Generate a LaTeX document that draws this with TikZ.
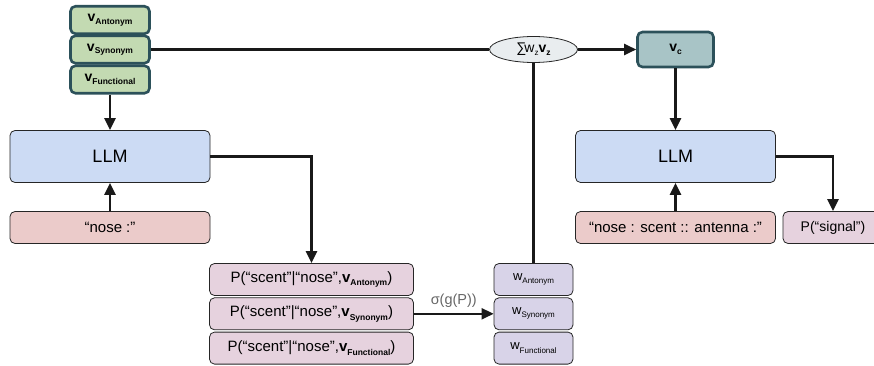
\documentclass[tikz,border=0pt]{standalone}
\usepackage{fontspec}
\setmainfont{Liberation Sans}
\usetikzlibrary{positioning, shapes.geometric, arrows.meta, calc}

\definecolor{vgreen}{HTML}{C3DAB2}
\definecolor{vborder}{HTML}{2C515A}
\definecolor{llmblue}{HTML}{CCDBF4}
\definecolor{promptpink}{HTML}{EBCBCA}
\definecolor{probpink}{HTML}{E6D2DE}
\definecolor{wlav}{HTML}{D8D3E8}
\definecolor{vcteal}{HTML}{A8C4C6}
\definecolor{sumgray}{HTML}{E9EDEF}

\newcommand{\bsub}[1]{\raisebox{-0.45ex}{\fontsize{8.5}{9}\selectfont\bfseries #1}}
\newcommand{\rsub}[1]{\raisebox{-0.45ex}{\fontsize{8}{9}\selectfont #1}}
\newcommand{\vname}[1]{{\fontsize{14}{15}\selectfont\bfseries v}\bsub{#1}}
\newcommand{\pname}[1]{P(“scent”|“nose”,{\bfseries v}\bsub{#1})}
\newcommand{\wname}[1]{w\rsub{#1}}

\begin{document}
\begin{tikzpicture}[
        x=1pt, y=-1pt,
        node distance=0pt,
        every node/.style={align=center, inner sep=0pt},
        box/.style={draw=black!85, rounded corners=5pt, line width=0.8pt},
        vbox/.style={box, draw=vborder, line width=2.6pt, fill=vgreen, minimum width=79pt, minimum height=27.5pt},
        llmbox/.style={box, fill=llmblue, minimum width=200pt, minimum height=52pt, font=\fontsize{18}{20}\selectfont},
        promptbox/.style={box, fill=promptpink, minimum width=200pt, minimum height=32pt, font=\fontsize{15}{17}\selectfont},
        probbox/.style={box, fill=probpink, minimum width=204pt, minimum height=32pt, font=\fontsize{15}{17}\selectfont},
        wbox/.style={box, fill=wlav, minimum width=79pt, minimum height=32pt, font=\fontsize{13}{14}\selectfont},
        line/.style={line width=2.3pt, draw=black!90},
        arrow/.style={line, -{Triangle[length=12pt,width=11pt]}}
      ]
    \useasboundingbox (0,0) rectangle (874,366);

    % left branch
    \node[vbox] (vant) at (110,20) {\vname{Antonym}};
    \node[vbox] (vsyn) at (110,49.5) {\vname{Synonym}};
    \node[vbox] (vfun) at (110,79.5) {\vname{Functional}};
    \node[llmbox] (llmA) at (110,156.5) {LLM};
    \node[promptbox] (noseA) at (110,227.5) {“nose :”};

    % probabilities and weights
    \node[probbox] (pant) at (311.5,279.5) {\pname{Antonym}};
    \node[probbox] (psyn) [below=1.5pt of pant] {\pname{Synonym}};
    \node[probbox] (pfun) [below=1.5pt of psyn] {\pname{Functional}};
    \node[wbox] (want) at (533.5,279.5) {\wname{Antonym}};
    \node[wbox] (wsyn) [below=1.5pt of want] {\wname{Synonym}};
    \node[wbox] (wfun) [below=1.5pt of wsyn] {\wname{Functional}};

    % mixing and right branch
    \node[ellipse, draw=black!85, line width=0.8pt, fill=sumgray, minimum width=88pt, minimum height=26pt,
          font=\fontsize{14}{15}\selectfont] (sum) at (533.5,49.5) {∑\kern-2pt w\rsub{z}{\bfseries v}\bsub{z}};
    \node[vbox, fill=vcteal, minimum width=76pt, minimum height=35pt] (vc) at (675.5,49.5) {\vname{c}};
    \node[llmbox] (llmB) at (675.5,156.5) {LLM};
    \node[promptbox] (promptB) at (675.5,227.5) {“nose : scent :: antenna :”};
    \node[box, fill=probpink, minimum width=100pt, minimum height=32pt, font=\fontsize{14}{15}\selectfont] (signal) at (833,227.5) {P(“signal”)};

    \draw[arrow] (vfun) -- (llmA);
    \draw[arrow] (noseA) -- (llmA);
    \draw[arrow] (llmA.east) -| (pant.north);
    \draw[arrow] (psyn) -- node[above=5pt, text=black!60, font=\fontsize{14.5}{15}\selectfont] {σ(g(P))} (wsyn);
    \draw[line] (want) -- (sum);
    \draw[line] (vsyn) -- (sum);
    \draw[arrow] (sum) -- (vc);
    \draw[arrow] (vc) -- (llmB);
    \draw[arrow] (promptB) -- (llmB);
    \draw[arrow] (llmB.east) -| (signal.north);

\end{tikzpicture}
\end{document}
